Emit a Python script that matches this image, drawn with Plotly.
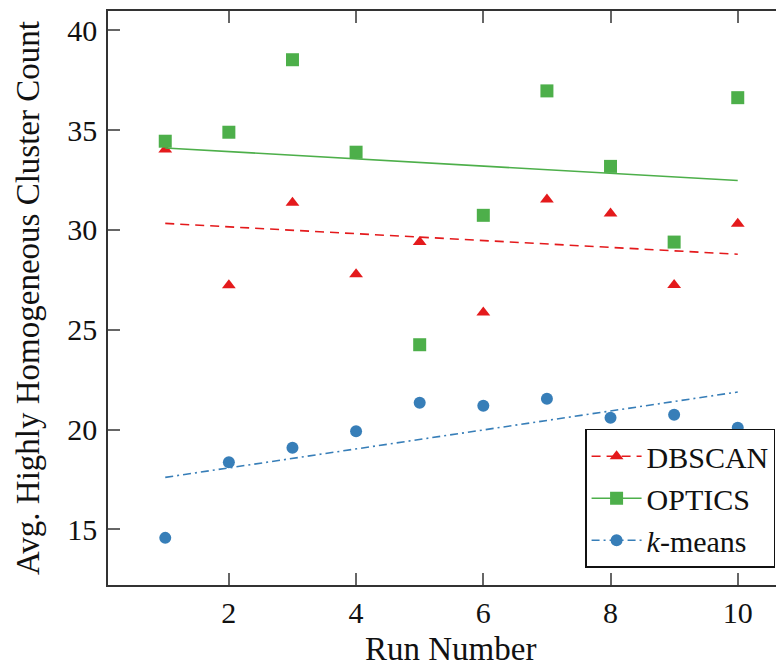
import numpy as np
import plotly.graph_objects as go

runs = [1, 2, 3, 4, 5, 6, 7, 8, 9, 10]
dbscan = [34.02, 27.23, 31.36, 27.78, 29.39, 25.86, 31.52, 30.82, 27.24, 30.31]
optics = [34.44, 34.89, 38.52, 33.89, 24.25, 30.73, 36.96, 33.18, 29.39, 36.62]
kmeans = [14.58, 18.37, 19.09, 19.92, 21.35, 21.19, 21.54, 20.59, 20.74, 20.09]

x_ticks = [2, 4, 6, 8, 10]
y_ticks = [15, 20, 25, 30, 35, 40]

RED = "#e41a1c"
GREEN = "#4daf4a"
BLUE = "#377eb8"
FONT = "Liberation Serif, Times New Roman, serif"

series = [
    ("DBSCAN", dbscan, RED, "triangle-up", 12, "9px,6px"),
    ("OPTICS", optics, GREEN, "square", 13, "solid"),
    ("<i>k</i>-means", kmeans, BLUE, "circle", 12, "8px,4px,2px,4px"),
]

fig = go.Figure()
xr = np.array(runs, dtype=float)
for name, vals, color, sym, size, dash in series:
    slope, icpt = np.polyfit(xr, np.array(vals), 1)
    fit = slope * xr + icpt
    fig.add_trace(go.Scatter(x=runs, y=vals, mode="markers",
                             marker=dict(symbol=sym, size=size, color=color, line=dict(width=0)),
                             showlegend=False))
    fig.add_trace(go.Scatter(x=runs, y=fit, mode="lines",
                             line=dict(color=color, width=1.6, dash=dash),
                             showlegend=False))
    fig.add_trace(go.Scatter(x=[None], y=[None], mode="lines+markers", name=name,
                             marker=dict(symbol=sym, size=size, color=color, line=dict(width=0)),
                             line=dict(color=color, width=1.6, dash=dash)))

fig.update_layout(
    width=800, height=668,
    margin=dict(l=100, r=13, t=1, b=91),
    paper_bgcolor="white", plot_bgcolor="white",
    font=dict(family=FONT, size=30, color="#111"),
    showlegend=True,
    legend=dict(x=0.971, y=0.03, xanchor="right", yanchor="bottom",
                bgcolor="white", bordercolor="#111", borderwidth=1.5,
                font=dict(family=FONT, size=30, color="#111"),
                tracegroupgap=0, itemwidth=50),
    xaxis=dict(range=[0.1, 10.9], tickvals=x_ticks, ticktext=[str(v) for v in x_ticks],
               showgrid=False, zeroline=False, showline=True, linecolor="#333", linewidth=1.5,
               mirror="ticks", ticks="inside", ticklen=12, tickwidth=1.5, tickcolor="#666",
               ticklabelstandoff=0, tickfont=dict(family=FONT, size=30, color="#111")),
    yaxis=dict(range=[12.22, 40.96], tickvals=y_ticks, ticktext=[str(v) for v in y_ticks],
               showgrid=False, zeroline=False, showline=True, linecolor="#333", linewidth=1.5,
               mirror="ticks", ticks="inside", ticklen=12, tickwidth=1.5, tickcolor="#666",
               ticklabelstandoff=3, tickfont=dict(family=FONT, size=30, color="#111")),
    annotations=[
        dict(text="Run Number", xref="paper", yref="paper", x=0.499, y=-0.111,
             xanchor="center", yanchor="middle", showarrow=False,
             font=dict(family=FONT, size=33, color="#111")),
        dict(text="Avg. Highly Homogeneous Cluster Count", xref="paper", yref="paper",
             x=-0.1164, y=0.5, xanchor="center", yanchor="middle", textangle=-90,
             showarrow=False, font=dict(family=FONT, size=33, color="#111")),
    ],
)

fig.write_html("out.html")
